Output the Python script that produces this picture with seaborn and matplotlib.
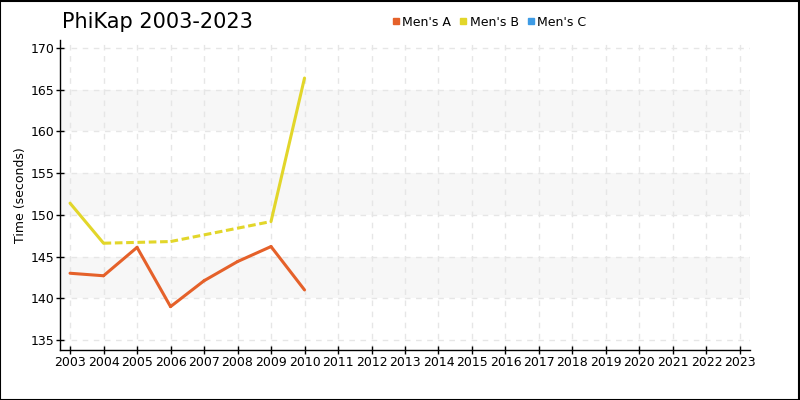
import pandas as pd
import numpy as np
import matplotlib.pyplot as plt
import seaborn as sns
from matplotlib.lines import Line2D

# -------------------------
# Datos
# -------------------------
years = list(range(2003, 2024))
mens_a = {2003: 143.0, 2004: 142.7, 2005: 146.1, 2006: 139.0, 2007: 142.1,
          2008: 144.4, 2009: 146.2, 2010: 141.0}
mens_b = {2003: 151.4, 2004: 146.6, 2006: 146.8, 2009: 149.2, 2010: 166.4}
mens_c = {}

series_names = ["Men's A", "Men's B", "Men's C"]
series_data = [mens_a, mens_b, mens_c]
colors = ["#e5612a", "#e2d62a", "#3d9be5"]
y_ticks = [135, 140, 145, 150, 155, 160, 165, 170]
bands = [(140, 145), (150, 155), (160, 165)]

sns.set_style("white")
plt.rcParams["font.family"] = ["DejaVu Sans"]
plt.rcParams["text.color"] = "black"
plt.rcParams["axes.labelcolor"] = "black"

fig = plt.figure(figsize=(8, 4), dpi=100)
ax = fig.add_axes([0.075, 0.125, 0.8625, 0.775])

for lo, hi in bands:
    ax.axhspan(lo, hi, color="#f7f7f7", zorder=0, lw=0)

# segmentos: solidos si los años son consecutivos, discontinuos si hay hueco
for name, data, color in zip(series_names, series_data, colors):
    yrs = sorted(data)
    for y0, y1 in zip(yrs[:-1], yrs[1:]):
        seg = pd.DataFrame({"year": [y0, y1], "time": [data[y0], data[y1]]})
        sns.lineplot(data=seg, x="year", y="time", color=color, lw=2.2, ax=ax,
                     linestyle="-" if y1 - y0 == 1 else (0, (2.5, 1.2)),
                     solid_capstyle="round", zorder=3)

ax.set_xlim(2002.7, 2023.3)
ax.set_ylim(133.8, 170.96)
ax.set_xticks(years)
ax.set_xticklabels([str(y) for y in years], fontsize=9)
ax.set_yticks(y_ticks)
ax.set_yticklabels([str(t) for t in y_ticks], fontsize=9)
ax.set_xlabel("")
ax.set_ylabel("Time (seconds)", fontsize=9)
ax.yaxis.set_label_coords(-0.048, 0.5)

ax.grid(True, color="#e6e6e6", linestyle=(0, (4, 4)), lw=1, zorder=1)
ax.set_axisbelow(True)
for s in ["top", "right"]:
    ax.spines[s].set_visible(False)
for s in ["left", "bottom"]:
    ax.spines[s].set_color("black")
    ax.spines[s].set_linewidth(1)
ax.tick_params(axis="both", direction="inout", length=6, width=1, colors="black",
               labelcolor="black", pad=1, left=True, bottom=True)

fig.text(0.078, 0.945, "PhiKap 2003-2023", fontsize=15, va="center", ha="left",
         color="black")

handles = [Line2D([], [], marker="s", linestyle="", markersize=5,
                  markerfacecolor=c, markeredgecolor=c) for c in colors]
fig.legend(handles, series_names, loc="center", bbox_to_anchor=(0.61, 0.945),
           ncol=3, frameon=False, fontsize=9, handletextpad=0.0,
           columnspacing=0.5, handlelength=1.0, labelcolor="black")

fig.patches.append(plt.Rectangle((0.0005, 0.001), 0.998, 0.997, transform=fig.transFigure,
                                 fill=False, edgecolor="black", lw=1.5))

fig.savefig("out.png", dpi=100)
